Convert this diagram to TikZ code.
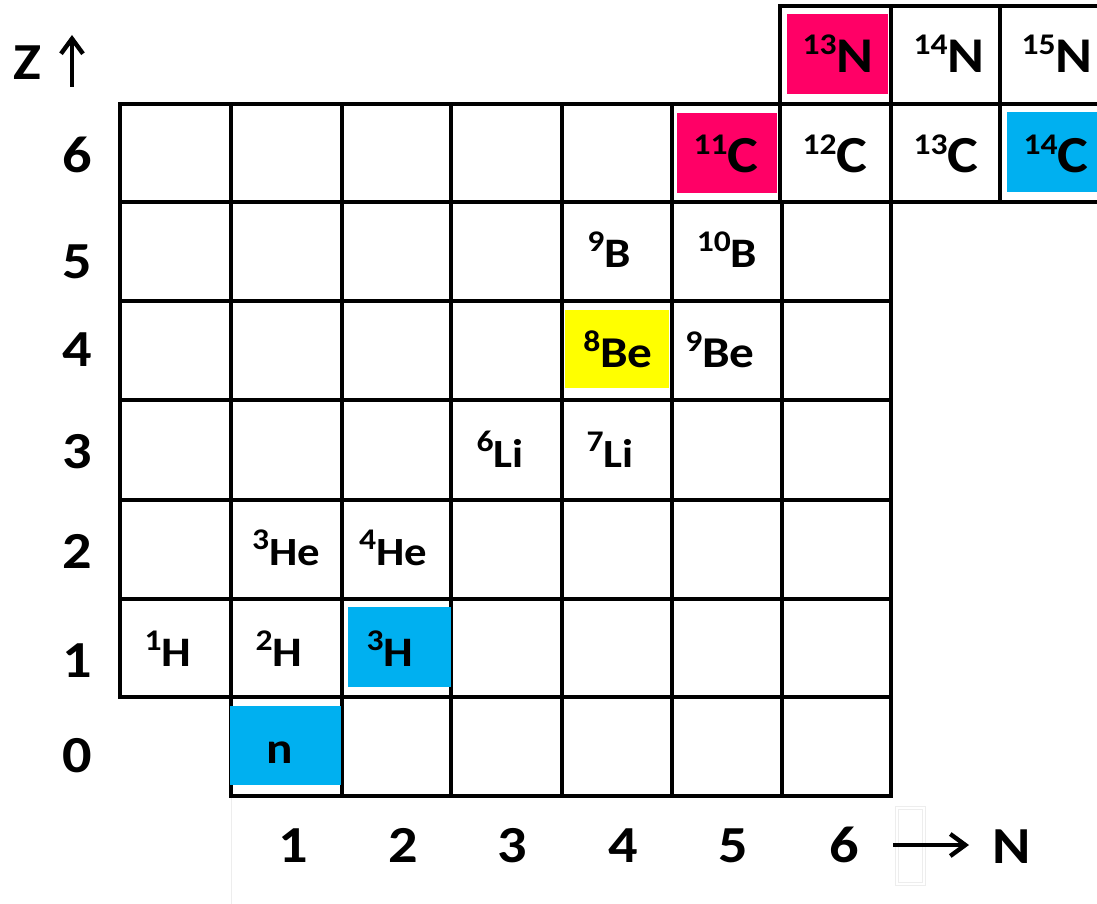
\documentclass[tikz,border=0pt]{standalone}
\usepackage{fontspec}
\setmainfont{Carlito}[FakeStretch=1.12]
\usetikzlibrary{arrows.meta}
\definecolor{pinkfill}{HTML}{FF0066}
\definecolor{bluefill}{HTML}{00B0F0}
\definecolor{yellowfill}{HTML}{FFFF00}
\newcommand{\isotope}[4]{{\fontsize{#1}{#1}\selectfont\raisebox{#2}{\fontsize{15pt}{15pt}\selectfont #3}#4}}
\begin{document}
\begin{tikzpicture}[x=0.5pt,y=-0.5pt,
  gridline/.style={draw=black,line width=2pt},
  lbl/.style={anchor=base,inner sep=0pt,font=\bfseries},
  axislbl/.style={anchor=base,inner sep=0pt,font=\bfseries\fontsize{26pt}{26pt}\selectfont},
  axisarrow/.style={line width=2.2pt,-{Straight Barb[length=7.5pt,width=11pt,line width=2.2pt]}},
  faint/.style={draw=black!7,line width=0.5pt}]
\useasboundingbox (0,0) rectangle (1097,904);
\clip (0,0) rectangle (1097,904);
% faint artefacts
\draw[faint] (231,796) -- (231,904);
\draw[faint] (895,806) rectangle (925,885);
\draw[faint] (898,809) rectangle (922,882);
% grid rows 1..5
\foreach \t/\b in {202/301,301/400,400/500,500/599,599/697}{
  \foreach \l/\r in {120/231,231/342,342/451,451/562,562/672,672/782,782/891}{
    \draw[gridline] (\l,\t) rectangle (\r,\b);
  }
}
% row 0
\foreach \l/\r in {231/342,342/451,451/562,562/672,672/782,782/891}{
  \draw[gridline] (\l,697) rectangle (\r,796);
}
% row 6
\foreach \l/\r in {120/231,231/342,342/451,451/562,562/672,672/780,780/891,891/1000,1000/1112}{
  \draw[gridline] (\l,104) rectangle (\r,202);
}
% row 7
\foreach \l/\r in {780/891,891/1000,1000/1112}{
  \draw[gridline] (\l,6) rectangle (\r,104);
}
% coloured fills
\fill[pinkfill] (787,14) rectangle (888,94);
\fill[pinkfill] (677,113) rectangle (777,193);
\fill[bluefill] (1007,112) rectangle (1112,192);
\fill[yellowfill] (565,310) rectangle (669,388);
\fill[bluefill] (348,607) rectangle (451,687);
\fill[bluefill] (230,706) rectangle (341,785);
% isotopes
\node[lbl] (n13) at (838,73) {\isotope{25pt}{9pt}{13}{N}};
\node[lbl] (n14) at (949,73) {\isotope{25pt}{9pt}{14}{N}};
\node[lbl] (n15) at (1057,73) {\isotope{25pt}{9pt}{15}{N}};
\node[lbl] (c11) at (726,172) {\isotope{26pt}{9pt}{11}{C}};
\node[lbl] (c12) at (835,172) {\isotope{26pt}{9pt}{12}{C}};
\node[lbl] (c13) at (946,172) {\isotope{26pt}{9pt}{13}{C}};
\node[lbl] (c14) at (1056,172) {\isotope{26pt}{9pt}{14}{C}};
\node[lbl] (b9) at (609,267) {\isotope{21pt}{8pt}{9}{B}};
\node[lbl] (b10) at (727,267) {\isotope{21pt}{8pt}{10}{B}};
\node[lbl] (be8) at (618,367) {\isotope{22pt}{8pt}{8}{Be}};
\node[lbl] (be9) at (720,367) {\isotope{22pt}{8pt}{9}{Be}};
\node[lbl] (li6) at (500,467) {\isotope{20pt}{8pt}{6}{Li}};
\node[lbl] (li7) at (610,467) {\isotope{20pt}{8pt}{7}{Li}};
\node[lbl] (he3) at (286,565) {\isotope{20pt}{8pt}{3}{He}};
\node[lbl] (he4) at (393,565) {\isotope{20pt}{8pt}{4}{He}};
\node[lbl] (h1) at (168,666) {\isotope{21pt}{8pt}{1}{H}};
\node[lbl] (h2) at (279,666) {\isotope{21pt}{8pt}{2}{H}};
\node[lbl] (h3) at (390,666) {\isotope{21pt}{8pt}{3}{H}};
\node[lbl,font=\bfseries\fontsize{22pt}{22pt}\selectfont] (neutron) at (280,763) {n};
% Z axis
\node[axislbl] (zlab) at (27,80) {Z};
\coordinate (zarrowbot) at (72,87);
\coordinate (zarrowtop) at (72,35);
\draw[axisarrow] (zarrowbot) -- (zarrowtop);
\node[axislbl] (z6) at (77,172) {6};
\node[axislbl] (z5) at (77,278) {5};
\node[axislbl] (z4) at (77,366) {4};
\node[axislbl] (z3) at (77,468) {3};
\node[axislbl] (z2) at (77,568) {2};
\node[axislbl] (z1) at (77,677) {1};
\node[axislbl] (z0) at (77,772) {0};
% N axis
\node[axislbl] (n1) at (293,862) {1};
\node[axislbl] (n2) at (403,862) {2};
\node[axislbl] (n3) at (512,862) {3};
\node[axislbl] (n4) at (623,862) {4};
\node[axislbl] (n5) at (733,862) {5};
\node[axislbl] (n6) at (844,862) {6};
\coordinate (narrowstart) at (893,845);
\coordinate (narrowend) at (969,845);
\draw[axisarrow] (narrowstart) -- (narrowend);
\node[axislbl] (nlab) at (1012,863) {N};
\end{tikzpicture}
\end{document}
